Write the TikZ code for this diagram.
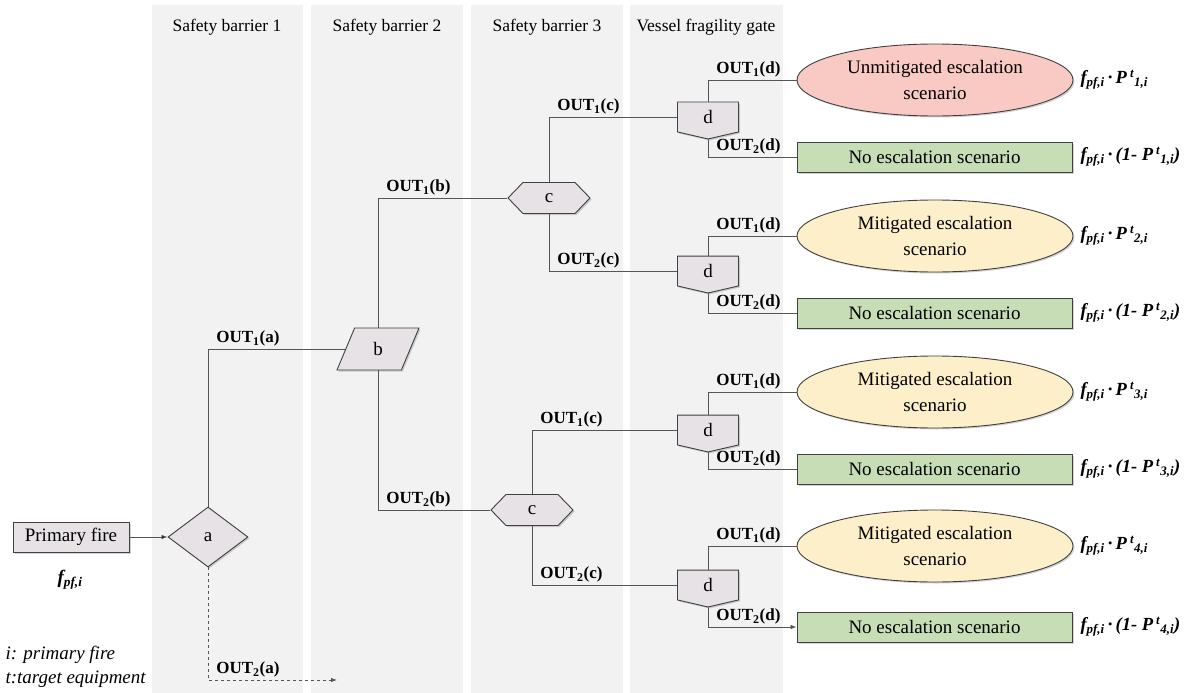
\documentclass[tikz,border=0pt]{standalone}
\usepackage{fontspec}
\setmainfont{Liberation Serif}
\newfontfamily\tnr{Liberation Serif}
\usetikzlibrary{shapes.geometric, shapes.symbols, shadows, arrows.meta, positioning}

\definecolor{bandgray}{HTML}{F2F2F2}
\definecolor{nodegray}{HTML}{E6E2E5}
\definecolor{edgegray}{HTML}{404040}
\definecolor{linegray}{HTML}{555555}
\definecolor{redfill}{HTML}{F9C9C4}
\definecolor{yellowfill}{HTML}{FDEFC9}
\definecolor{greenfill}{HTML}{C6DDB6}

\newcommand{\fpf}{f\textsubscript{pf,i}}

\tikzset{
  nd/.style={draw=edgegray, fill=nodegray, line width=0.9pt, inner sep=0pt,
    drop shadow={shadow xshift=1.5pt, shadow yshift=-1.5pt, opacity=0.35}},
  gatea/.style={nd, diamond, minimum width=80pt, minimum height=60pt},
  gateb/.style={nd, trapezium, trapezium left angle=75, trapezium right angle=105,
    trapezium stretches=true, minimum width=82pt, minimum height=42pt},
  gatec/.style={nd, signal, signal to=east and west, signal from=nowhere,
    signal pointer angle=92, minimum width=82pt, minimum height=31pt},
  gated/.style={nd, signal, signal to=south, signal from=nowhere, signal pointer angle=154,
    minimum width=61pt, minimum height=31pt},
  esc/.style={nd, ellipse, align=center, minimum width=276pt, minimum height=72pt},
  noesc/.style={nd, rectangle, fill=greenfill, minimum width=275pt, minimum height=30pt},
  hdr/.style={font=\tnr\fontsize{17.5}{20}\selectfont},
  outlbl/.style={pos=0.5, above right, xshift=6pt, inner sep=2pt,
    font=\tnr\fontsize{17}{19}\selectfont\bfseries},
  result/.style={anchor=west, font=\tnr\fontsize{18.5}{20}\selectfont\bfseries\itshape},
  legend/.style={anchor=west, font=\tnr\fontsize{19}{21}\selectfont\itshape},
  link/.style={draw=linegray, line width=0.8pt}
}

\begin{document}
\begin{tikzpicture}[x=1pt, y=-1pt, font=\tnr\fontsize{19}{26}\selectfont,
                    >={Latex[length=6pt,width=4.5pt]}]
  \useasboundingbox (0,0) rectangle (1194,693);

  % columns
  \fill[bandgray] (152,5) rectangle (303,693);
  \fill[bandgray] (311,5) rectangle (463,693);
  \fill[bandgray] (471,5) rectangle (623,693);
  \fill[bandgray] (630,5) rectangle (783,693);
  \node[hdr] (h1) at (227,27) {Safety barrier 1};
  \node[hdr] (h2) at (387,27) {Safety barrier 2};
  \node[hdr] (h3) at (547,27) {Safety barrier 3};
  \node[hdr] (h4) at (706,27) {Vessel fragility gate};

  % gates
  \node[nd, minimum width=116pt, minimum height=30pt] (pf) at (71,537) {Primary fire};
  \node[font=\tnr\fontsize{19}{21}\selectfont\bfseries\itshape] (fpf) at (70,580) {\fpf};
  \node[gatea] (a) at (208,537) {a};
  \node[gateb] (b) at (378,349) {b};
  \node[gatec] (c1) at (549,198) {c};
  \node[gatec] (c2) at (532,510) {c};
  \node[gated] (d1) at (708,117) {d};
  \node[gated] (d2) at (708,271) {d};
  \node[gated] (d3) at (708,430) {d};
  \node[gated] (d4) at (708,585) {d};

  % scenarios
  \node[esc, fill=redfill] (e1) at (935,80) {Unmitigated escalation\\scenario};
  \node[noesc] (n1) at (934.5,157) {No escalation scenario};
  \node[esc, fill=yellowfill] (e2) at (935,236) {Mitigated escalation\\scenario};
  \node[noesc] (n2) at (934.5,313) {No escalation scenario};
  \node[esc, fill=yellowfill] (e3) at (935,392) {Mitigated escalation\\scenario};
  \node[noesc] (n3) at (934.5,469) {No escalation scenario};
  \node[esc, fill=yellowfill] (e4) at (935,546) {Mitigated escalation\\scenario};
  \node[noesc] (n4) at (934.5,627) {No escalation scenario};

  % frequencies
  \node[result] (r1) at (1077,80) {\fpf\,·\,P\,\textsuperscript{t}\textsubscript{1,i}};
  \node[result] (s1) at (1077,157) {\fpf\,·\,(1- P\,\textsuperscript{t}\textsubscript{1,i})};
  \node[result] (r2) at (1077,236) {\fpf\,·\,P\,\textsuperscript{t}\textsubscript{2,i}};
  \node[result] (s2) at (1077,313) {\fpf\,·\,(1- P\,\textsuperscript{t}\textsubscript{2,i})};
  \node[result] (r3) at (1077,392) {\fpf\,·\,P\,\textsuperscript{t}\textsubscript{3,i}};
  \node[result] (s3) at (1077,469) {\fpf\,·\,(1- P\,\textsuperscript{t}\textsubscript{3,i})};
  \node[result] (r4) at (1077,546) {\fpf\,·\,P\,\textsuperscript{t}\textsubscript{4,i}};
  \node[result] (s4) at (1077,627) {\fpf\,·\,(1- P\,\textsuperscript{t}\textsubscript{4,i})};

  % legend
  \node[legend] (lg1) at (2,655) {i: primary fire};
  \node[legend] (lg2) at (2,679) {t:target equipment};

  \coordinate (enda) at (337,680);

  \path[link, ->]
    (pf) edge (a)
    (a.north) |- node[outlbl] {OUT\textsubscript{1}(a)} (b.west)
    (b.north) |- node[outlbl] {OUT\textsubscript{1}(b)} (c1.west)
    (b.south) |- node[outlbl] {OUT\textsubscript{2}(b)} (c2.west)
    (c1.north) |- node[outlbl] {OUT\textsubscript{1}(c)} (d1.west)
    (c1.south) |- node[outlbl] {OUT\textsubscript{2}(c)} (d2.west)
    (c2.north) |- node[outlbl] {OUT\textsubscript{1}(c)} (d3.west)
    (c2.south) |- node[outlbl] {OUT\textsubscript{2}(c)} (d4.west)
    (d1.north) |- node[outlbl] {OUT\textsubscript{1}(d)} (e1.west)
    (d1.south) |- node[outlbl] {OUT\textsubscript{2}(d)} (n1.west)
    (d2.north) |- node[outlbl] {OUT\textsubscript{1}(d)} (e2.west)
    (d2.south) |- node[outlbl] {OUT\textsubscript{2}(d)} (n2.west)
    (d3.north) |- node[outlbl] {OUT\textsubscript{1}(d)} (e3.west)
    (d3.south) |- node[outlbl] {OUT\textsubscript{2}(d)} (n3.west)
    (d4.north) |- node[outlbl] {OUT\textsubscript{1}(d)} (e4.west)
    (d4.south) |- node[outlbl] {OUT\textsubscript{2}(d)} (n4.west);
  \draw[link, ->, dashed] (a.south) |- node[outlbl] {OUT\textsubscript{2}(a)} (enda);
\end{tikzpicture}
\end{document}
